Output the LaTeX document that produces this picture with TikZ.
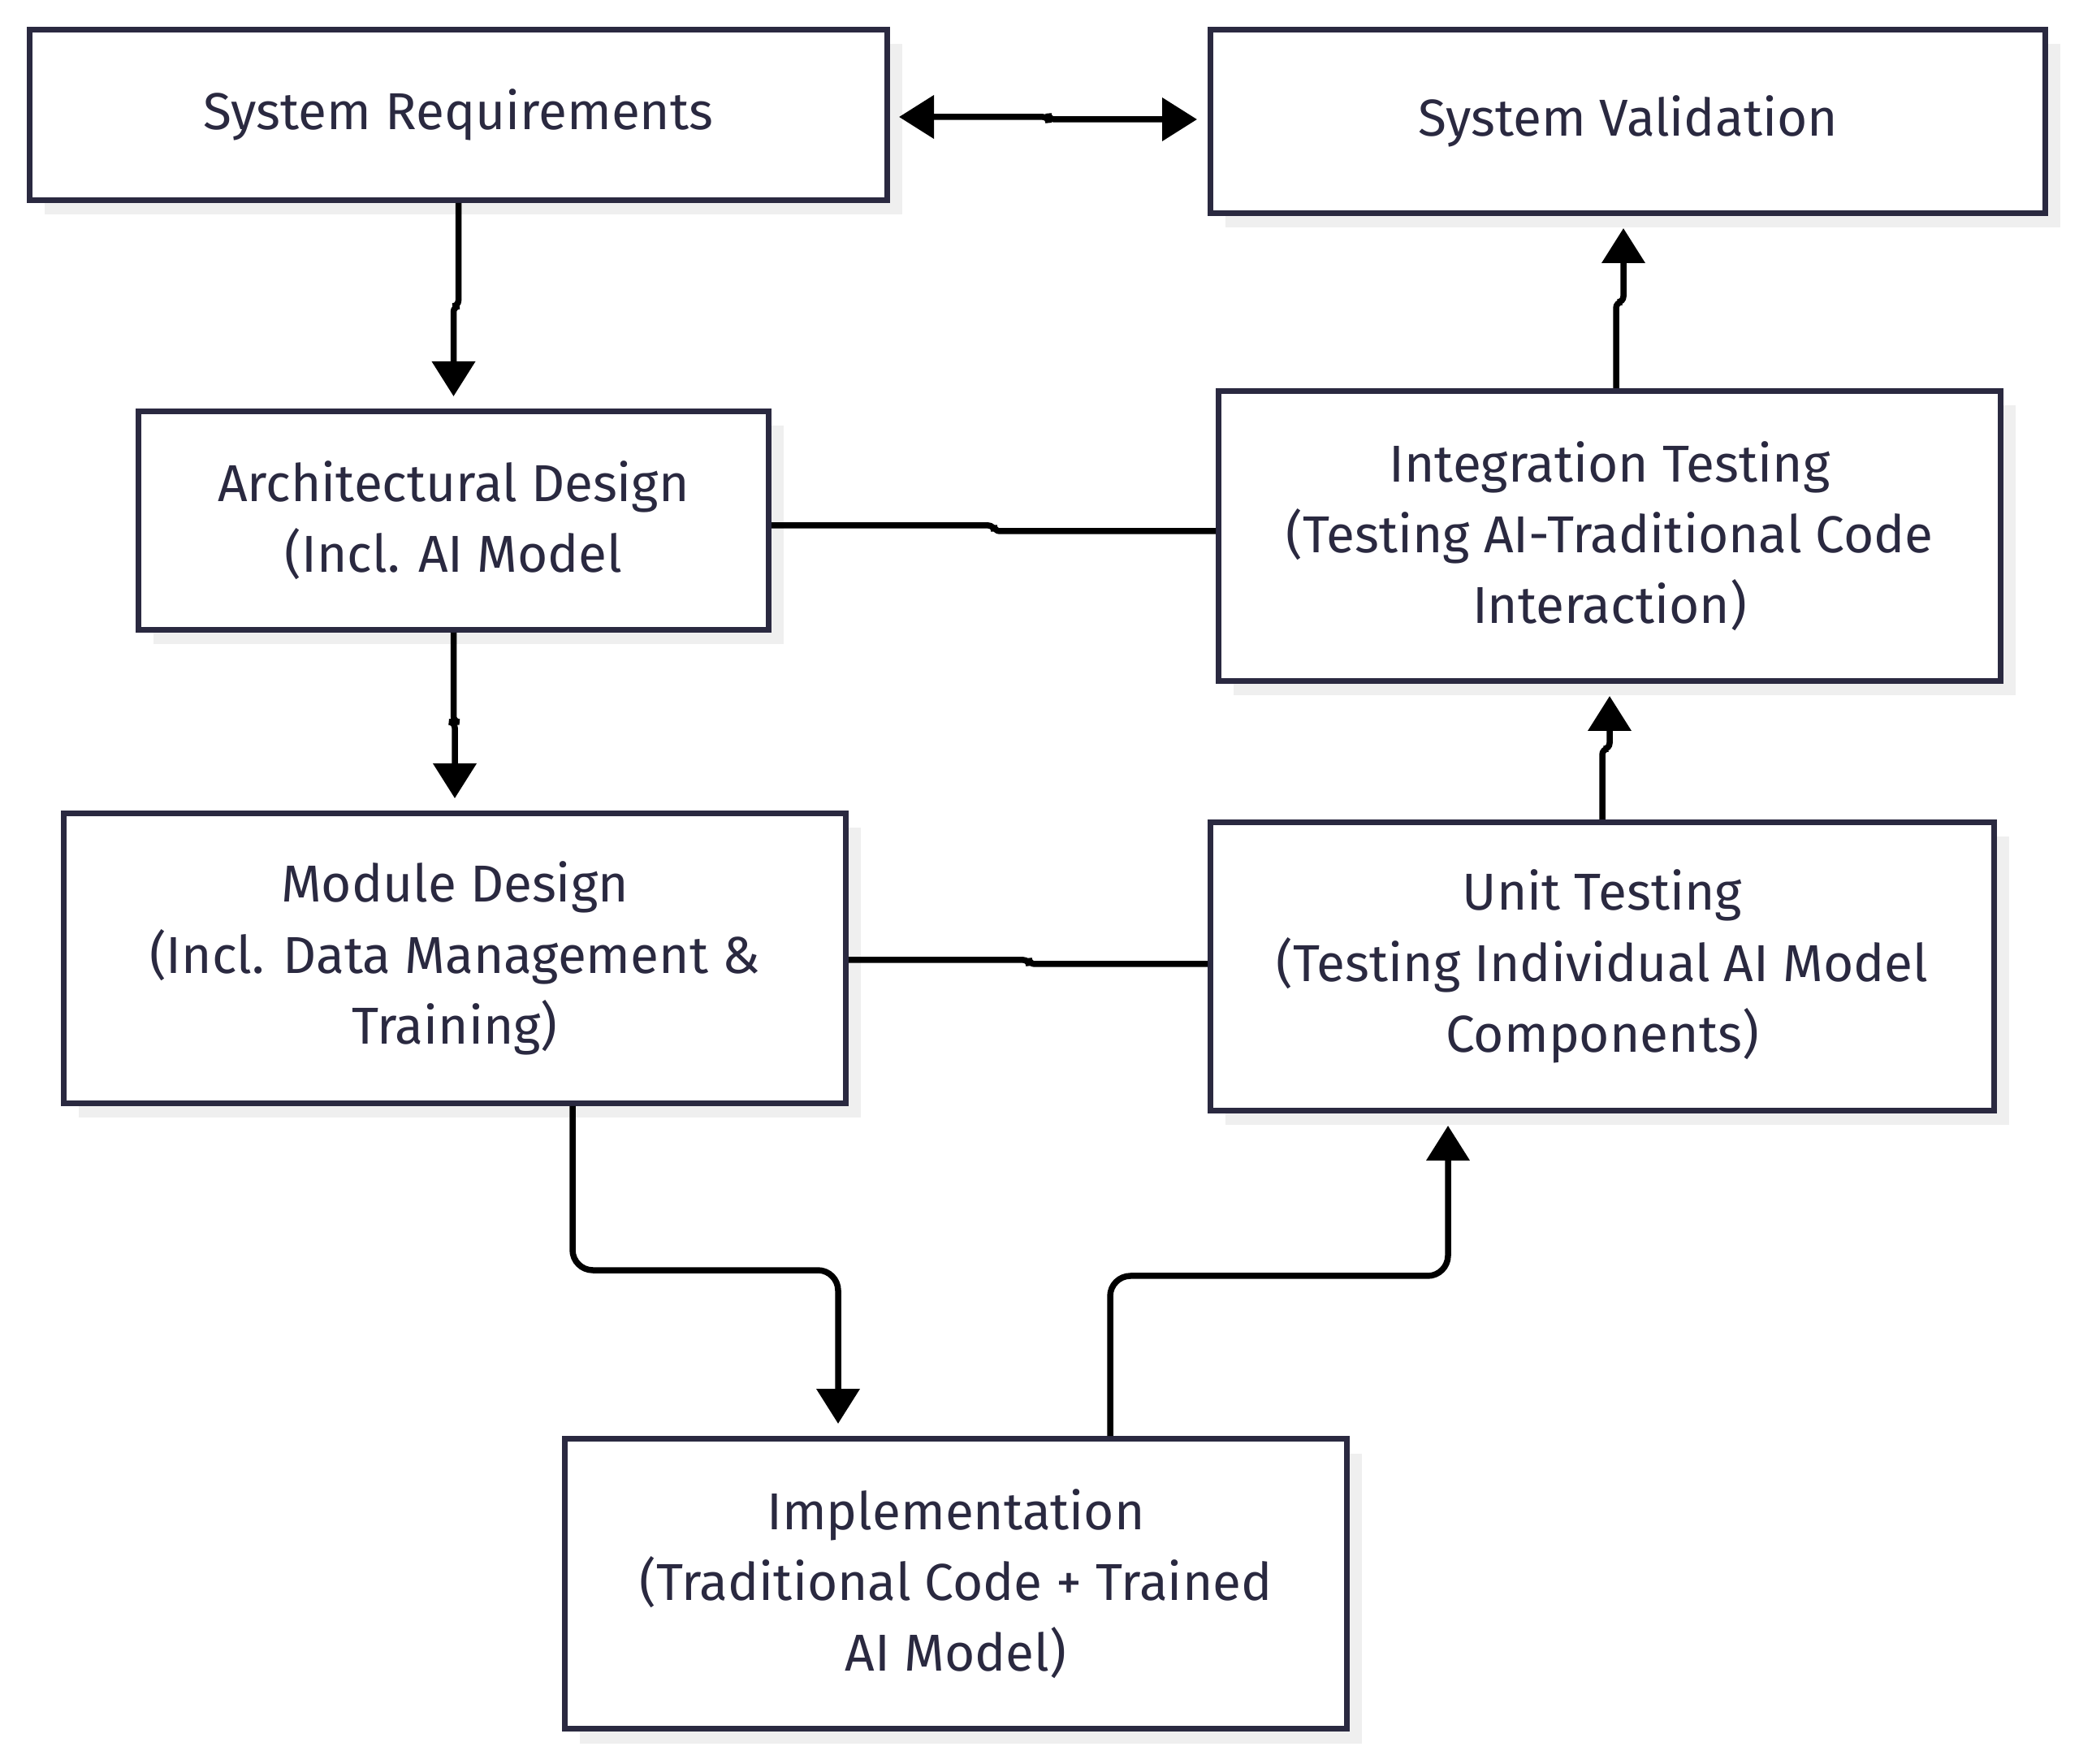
\documentclass[tikz,border=0pt]{standalone}
\usepackage{fontspec}
\setmainfont{Fira Sans}
\usepackage{tikz}
\usetikzlibrary{arrows.meta}
\usetikzlibrary{shadows}
\definecolor{navy}{RGB}{42,41,64}
\definecolor{shade}{RGB}{239,239,239}

\tikzset{
  box/.style={draw=navy, line width=0.07cm, fill=white, text=navy, align=center,
    font=\fontsize{18.2}{24.8}\selectfont,
    general shadow={shadow xshift=0.18cm, shadow yshift=-0.18cm, fill=shade}},
  arr/.style={line width=0.075cm, -{Triangle[length=0.43cm,width=0.52cm]}, shorten >=0.15cm},
  link/.style={line width=0.075cm}
}

\begin{document}
\begin{tikzpicture}
\useasboundingbox (0,0) rectangle (25.6,-21.72);

\node[box, minimum width=10.56cm, minimum height=2.10cm] (sysreq) at (5.645,-1.415) {System Requirements};
\node[box, minimum width=10.28cm, minimum height=2.26cm] (sysval) at (20.045,-1.495) {System Validation};
\node[box, minimum width=7.76cm, minimum height=2.69cm] (arch) at (5.585,-6.41) {Architectural Design\\(Incl. AI Model};
\node[box, minimum width=9.63cm, minimum height=3.57cm] (integ) at (19.82,-6.60) {Integration Testing\\(Testing AI-Traditional Code\\Interaction)};
\node[box, minimum width=9.63cm, minimum height=3.57cm] (module) at (5.60,-11.80) {Module Design\\(Incl. Data Management \&\\Training)};
\node[box, minimum width=9.65cm, minimum height=3.55cm] (unit) at (19.73,-11.90) {Unit Testing\\(Testing Individual AI Model\\Components)};
\node[box, minimum width=9.63cm, minimum height=3.57cm] (impl) at (11.77,-19.50) {Implementation\\(Traditional Code + Trained\\AI Model)};

% left branch
\draw [arr, {Triangle[length=0.43cm,width=0.52cm]}-{Triangle[length=0.43cm,width=0.52cm]}, shorten <=0.11cm, shorten >=0.13cm, rounded corners=2pt]
  ([yshift=-0.025cm]sysreq.east) -- ++(1.95,0) |- ([yshift=0.025cm]sysval.west);
\draw [arr, rounded corners=2pt] (sysreq.south) -- ++(0,-1.27) -| (arch.north);
\draw [arr, rounded corners=2pt] (arch.south) -- ++(0,-1.1) -| (module.north);
\draw [link, rounded corners=2pt] ([yshift=-0.06cm]arch.east) -- ++(2.74,0) |- ([yshift=0.06cm]integ.west);
\draw [link, rounded corners=2pt] ([yshift=-0.02cm]module.east) -- ++(2.22,0) |- ([yshift=0.03cm]unit.west);
\draw [arr, rounded corners=0.25cm] ([xshift=1.45cm]module.south) -- ++(0,-2.02) -| ([xshift=-1.45cm]impl.north);

% right branch
\draw [arr, rounded corners=0.25cm] ([xshift=1.9cm]impl.north) -- ++(0,1.97) -| ([xshift=-1.9cm]unit.south);
\draw [arr, rounded corners=2pt] (unit.north) -- ++(0,0.87) -| (integ.south);
\draw [arr, rounded corners=2pt] ([xshift=0.08cm]integ.north) -- ++(0,1.06) -| ([xshift=-0.055cm]sysval.south);

\end{tikzpicture}
\end{document}
